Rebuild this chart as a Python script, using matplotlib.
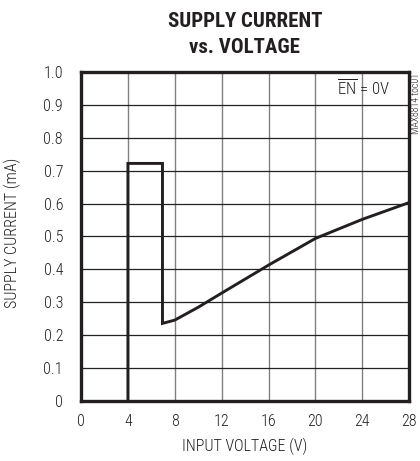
import matplotlib
matplotlib.use('Agg')
import matplotlib.pyplot as plt

plt.rcParams['font.family'] = ['Roboto Condensed', 'DejaVu Sans']
plt.rcParams['mathtext.fontset'] = 'custom'
plt.rcParams['mathtext.rm'] = 'Roboto Condensed:light'

# supply current vs input voltage
volts = [4.0, 4.0, 6.95, 6.95, 8.0, 10.0, 12.0, 16.0, 20.0, 24.0, 28.0]
current = [0.0, 0.722, 0.722, 0.236, 0.246, 0.285, 0.328, 0.413, 0.494, 0.552, 0.603]

xticks = [0, 4, 8, 12, 16, 20, 24, 28]
yticks = [0, 0.1, 0.2, 0.3, 0.4, 0.5, 0.6, 0.7, 0.8, 0.9, 1.0]
ylabels = ['0', '0.1', '0.2', '0.3', '0.4', '0.5', '0.6', '0.7', '0.8', '0.9', '1.0']

ink = '#231f20'
fig = plt.figure(figsize=(4.2, 4.61), dpi=100)
ax = fig.add_axes([0.193, 0.130, 0.781, 0.714])

for x in xticks[1:-1]:
    ax.axvline(x, color='#808080', lw=1.0, zorder=1)
for y in yticks[1:-1]:
    ax.axhline(y, color='#222222', lw=0.9, zorder=1)

ax.plot(volts, current, color=ink, lw=2.1, zorder=3, solid_joinstyle='miter')

ax.set_xlim(0, 28)
ax.set_ylim(0, 1.0)
ax.set_xticks(xticks)
ax.set_yticks(yticks)
ax.set_yticklabels(ylabels)
ax.tick_params(length=0, labelsize=11.5, colors=ink)
ax.tick_params(axis='y', pad=13)
ax.tick_params(axis='x', pad=9)
for lab in ax.get_xticklabels() + ax.get_yticklabels():
    lab.set_fontweight('light')
for s in ax.spines.values():
    s.set_linewidth(2.4)
    s.set_color(ink)

ax.set_xlabel('INPUT VOLTAGE (V)', fontsize=11.5, color=ink, fontweight='light')
ax.set_ylabel('SUPPLY CURRENT (mA)', fontsize=11.5, color=ink, fontweight='light')
ax.xaxis.set_label_coords(0.5, -0.113)
ax.yaxis.set_label_coords(-0.183, 0.51)

fig.text(0.583, 0.942, 'SUPPLY CURRENT', ha='center', va='baseline',
         fontsize=15, fontweight='black', color=ink)
fig.text(0.583, 0.884, 'vs. VOLTAGE', ha='center', va='baseline',
         fontsize=15, fontweight='black', color=ink)

ax.text(0.942, 0.930, r'$\overline{\mathrm{EN}}$ = 0V', transform=ax.transAxes,
        ha='right', va='baseline', fontsize=12, color=ink, fontweight='light')
fig.text(0.990, 1 - 73 / 461, 'MAX8814 toc01', rotation=90, ha='center', va='top',
         fontsize=7, color=ink, fontweight='light')

fig.savefig('out.png', dpi=100)
